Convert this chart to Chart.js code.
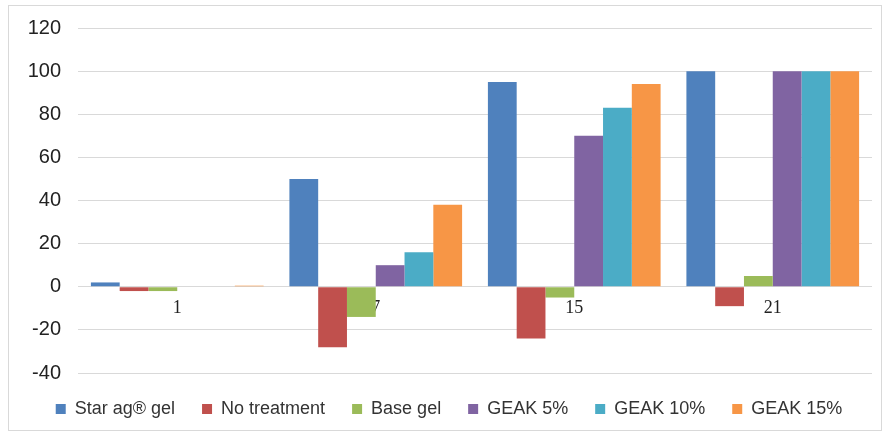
<!DOCTYPE html>
<html>
<head>
<meta charset="utf-8">
<script src="https://cdn.jsdelivr.net/npm/chart.js@4.4.0/dist/chart.umd.min.js"></script>
<style>
    html, body { margin: 0; padding: 0; background: #fff; }
    #frame {
        position: absolute;
        left: 8px;
        top: 5px;
        width: 872px;
        height: 424px;
        border: 1px solid #d9d9d9;
    }
    #chart { display: block; }
</style>
</head>
<body>
<div id="frame"><canvas id="chart" width="872" height="424"></canvas></div>
<script>
// days after wound induction
const days = ["1", "7", "15", "21"];

const seriesNames = ["Star ag\u00AE gel", "No treatment", "Base gel", "GEAK 5%", "GEAK 10%", "GEAK 15%"];

const starAgGel = [2, 50, 95, 100];
const noTreatment = [-2, -28, -24, -9];
const baseGel = [-2, -14, -5, 5];
const geak5 = [0, 10, 70, 100];
const geak10 = [0, 16, 83, 100];
const geak15 = [0.5, 38, 94, 100];

const yTicks = [-40, -20, 0, 20, 40, 60, 80, 100, 120];

const colors = ["#4f81bd", "#c0504d", "#9bbb59", "#8064a2", "#4bacc6", "#f79646"];

document.addEventListener("DOMContentLoaded", function () {
    const ctx = document.getElementById("chart").getContext("2d");
    const allSeries = [starAgGel, noTreatment, baseGel, geak5, geak10, geak15];

    const datasets = allSeries.map((values, i) => ({
        label: seriesNames[i],
        data: values,
        backgroundColor: colors[i],
        borderWidth: 0,
        categoryPercentage: 0.87,
        barPercentage: 1.0
    }));

    new Chart(ctx, {
        type: "bar",
        data: { labels: days, datasets: datasets },
        options: {
            responsive: false,
            animation: false,
            layout: { padding: { left: 17, right: 9, top: 22, bottom: 2 } },
            plugins: {
                tooltip: { enabled: false },
                legend: {
                    position: "bottom",
                    labels: {
                        font: { family: "Liberation Sans", size: 18 },
                        color: "#333",
                        boxWidth: 10,
                        boxHeight: 10,
                        padding: 27
                    }
                }
            },
            scales: {
                x: {
                    position: { y: 0 },
                    z: 1,
                    grid: { display: false },
                    border: { display: false },
                    ticks: {
                        font: { family: "Liberation Serif", size: 18 },
                        color: "#222",
                        padding: 3
                    }
                },
                y: {
                    min: yTicks[0],
                    max: yTicks[yTicks.length - 1],
                    afterBuildTicks: (scale) => {
                        scale.ticks = yTicks.map((v) => ({ value: v }));
                    },
                    afterFit: (scale) => { scale.width = 52; },
                    grid: { color: "#d9d9d9", drawTicks: true, tickLength: 17, tickColor: "rgba(0,0,0,0)" },
                    border: { display: false },
                    ticks: {
                        font: { family: "Liberation Sans", size: 20 },
                        color: "#222",
                        padding: 0
                    }
                }
            }
        }
    });
});
</script>
</body>
</html>
